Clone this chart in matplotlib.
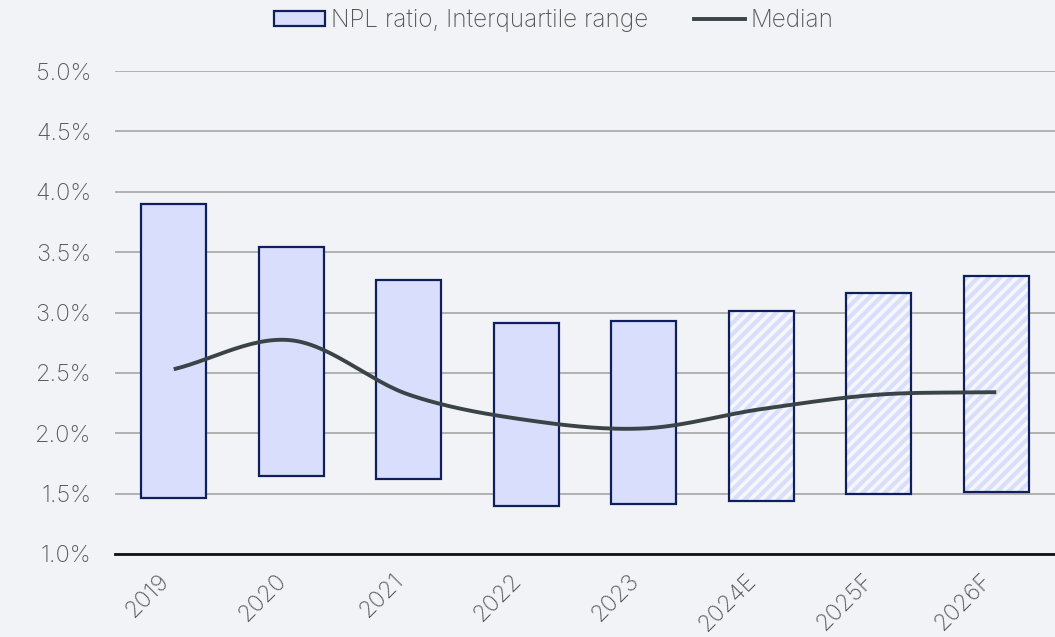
import numpy as np
import matplotlib.pyplot as plt
from matplotlib.patches import Patch
from matplotlib.lines import Line2D
from matplotlib.ticker import FuncFormatter

# data (NPL ratio, %)
years = ["2019", "2020", "2021", "2022", "2023", "2024E", "2025F", "2026F"]
q1 = [1.46, 1.65, 1.62, 1.40, 1.41, 1.44, 1.50, 1.51]
q3 = [3.90, 3.54, 3.27, 2.91, 2.93, 3.01, 3.16, 3.30]
median = [2.53, 2.77, 2.32, 2.11, 2.04, 2.20, 2.32, 2.34]
forecast = [False, False, False, False, False, True, True, True]

bg = "#F2F3F7"
fill = "#D8DEFC"
edge = "#0F1F5C"
line_col = "#3A4447"
txt = "#595959"

plt.rcParams["font.family"] = ["Inter", "DejaVu Sans"]
plt.rcParams["font.weight"] = "light"
plt.rcParams["hatch.linewidth"] = 3.0

fig = plt.figure(figsize=(10.55, 6.37), dpi=100, facecolor=bg)
ax = fig.add_axes([115 / 1055, 83 / 637, 940 / 1055, 483 / 637], facecolor=bg)

x = np.arange(len(years))
for i in x:
    if forecast[i]:
        ax.bar(i, q3[i] - q1[i], bottom=q1[i], width=0.555, facecolor="#F6F7FB",
               edgecolor=fill, hatch="///", linewidth=0, zorder=2)
        ax.bar(i, q3[i] - q1[i], bottom=q1[i], width=0.555, facecolor="none",
               edgecolor=edge, linewidth=1.6, zorder=3)
    else:
        ax.bar(i, q3[i] - q1[i], bottom=q1[i], width=0.555, facecolor=fill,
               edgecolor=edge, linewidth=1.6, zorder=3)


# smoothed median line (Catmull-Rom, like Excel's smoothed line)
def catmull_rom(px, py, n=30):
    px = np.asarray(px, float)
    py = np.asarray(py, float)
    px_ext = np.concatenate([[2 * px[0] - px[1]], px, [2 * px[-1] - px[-2]]])
    py_ext = np.concatenate([[2 * py[0] - py[1]], py, [2 * py[-1] - py[-2]]])
    xs, ys = [], []
    t = np.linspace(0, 1, n)
    for k in range(1, len(px_ext) - 2):
        p0, p1, p2, p3 = [np.array([px_ext[j], py_ext[j]]) for j in range(k - 1, k + 3)]
        seg = 0.5 * ((2 * p1)[:, None] + (-p0 + p2)[:, None] * t
                     + (2 * p0 - 5 * p1 + 4 * p2 - p3)[:, None] * t ** 2
                     + (-p0 + 3 * p1 - 3 * p2 + p3)[:, None] * t ** 3)
        xs.extend(seg[0])
        ys.extend(seg[1])
    return np.array(xs), np.array(ys)


sx, sy = catmull_rom(x, median)
ax.plot(sx, sy, color=line_col, linewidth=2.8, zorder=4, solid_capstyle="butt")

ax.set_xlim(-0.5, len(years) - 0.5)
ax.set_ylim(1.0, 5.0)
ax.set_yticks(np.arange(1.0, 5.01, 0.5))
ax.yaxis.set_major_formatter(FuncFormatter(lambda v, p: f"{v:.1f}%"))
ax.grid(axis="y", color="#A6A6A6", linewidth=1.2, zorder=0)
ax.set_axisbelow(True)
for s in ["top", "right", "left"]:
    ax.spines[s].set_visible(False)
ax.spines["bottom"].set_color("#111111")
ax.spines["bottom"].set_linewidth(2)
ax.spines["bottom"].set_zorder(5)

ax.tick_params(axis="y", length=0, pad=17, labelsize=17, labelcolor=txt)
ax.tick_params(axis="x", length=0, pad=11, labelsize=17, labelcolor=txt)
ax.set_xticks(x)
ax.set_xticklabels(years, rotation=45, ha="right", va="top")

handles = [Patch(facecolor=fill, edgecolor=edge, linewidth=1.6),
           Line2D([0], [0], color=line_col, linewidth=2.8)]
fig.legend(handles, ["NPL ratio, Interquartile range", "Median"],
           loc="upper center", bbox_to_anchor=(0.525, 1.02), ncol=2,
           frameon=False, fontsize=17.5, labelcolor=txt,
           handlelength=2.1, handleheight=0.6, handletextpad=0.25,
           columnspacing=1.88)

fig.savefig("out.png", dpi=100, facecolor=bg)
